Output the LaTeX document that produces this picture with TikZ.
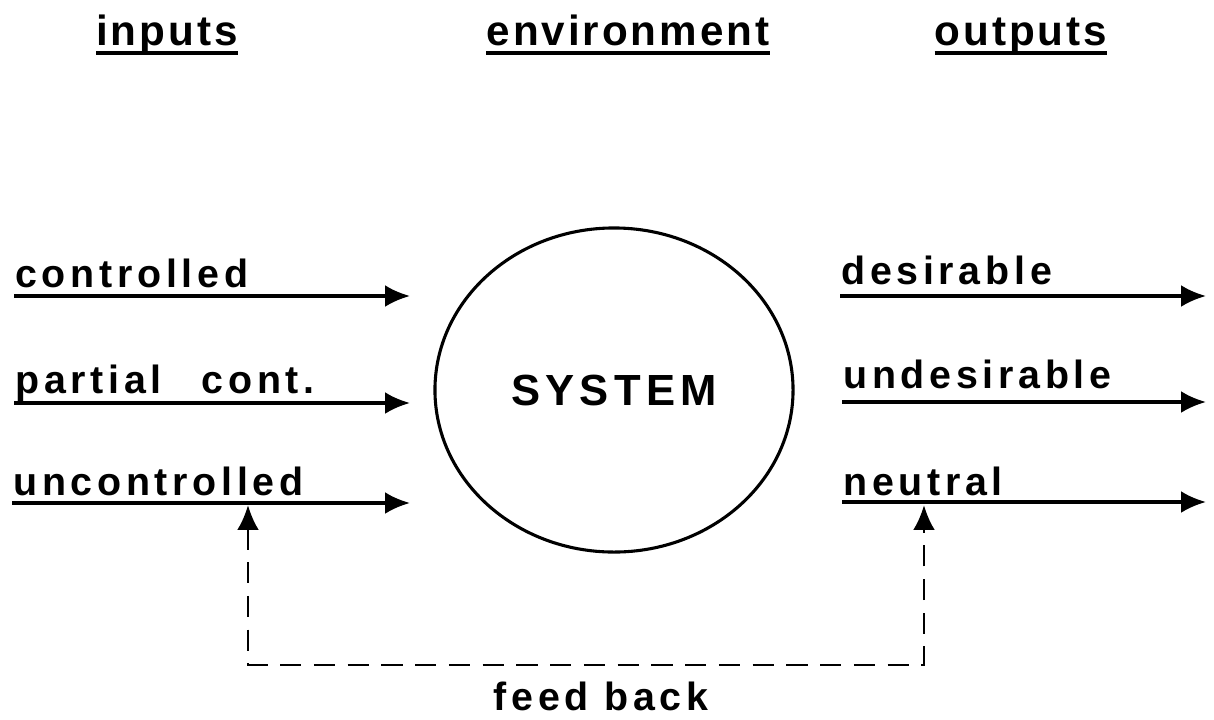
\documentclass[tikz,border=0pt]{standalone}
\usepackage{fontspec}
\setmainfont{Liberation Sans}
\newfontfamily\lettering[LetterSpace=12]{Liberation Sans Bold}
\newfontfamily\headfont[LetterSpace=7]{Liberation Sans Bold}
\newfontfamily\capsfont[LetterSpace=12]{Liberation Sans Bold}
\usetikzlibrary{arrows.meta,positioning,shapes.geometric}

\begin{document}
\begin{tikzpicture}[
    x=0.025cm, y=-0.025cm,
    >={Latex[length=0.62cm,width=0.54cm]},
    lbl/.style={inner sep=0pt, anchor=base west,
        font=\lettering\fontsize{28}{30}\selectfont},
    head/.style={inner sep=0pt, anchor=base,
        font=\headfont\fontsize{30}{32}\selectfont},
    flow/.style={->, line width=2.2pt},
    fb/.style={<->, line width=1.9pt, dash pattern=on 15pt off 9pt},
    sys/.style={
        draw, ellipse, line width=2.2pt,
        minimum width=8.95cm,
        minimum height=8.1cm,
        inner sep=0pt,
        font=\capsfont\fontsize{31}{33}\selectfont
    },
]
\useasboundingbox (0,0) rectangle (1214,719);

% headings
\node[head] (inp) at (167,45) {inputs};
\node[head] (env) at (628,45) {environment};
\node[head] (outp) at (1021,45) {outputs};
\draw[line width=2.4pt] ([yshift=-0.2cm]inp.base west) -- ([yshift=-0.2cm]inp.base east);
\draw[line width=2.4pt] ([yshift=-0.2cm]env.base west) -- ([yshift=-0.2cm]env.base east);
\draw[line width=2.4pt] ([yshift=-0.2cm]outp.base west) -- ([yshift=-0.2cm]outp.base east);

\node[sys] (system) at (614,390) {SYSTEM};

% inputs
\node[lbl] (ctl) at (15,287) {controlled};
\node[lbl] (pctl) at (15,393) {partial\hspace{1.0cm}cont.};
\node[lbl] (uctl) at (13,495) {uncontrolled};
\coordinate (ctl-a) at (14,296);
\coordinate (ctl-b) at (410,296);
\coordinate (pctl-a) at (14,403);
\coordinate (pctl-b) at (410,403);
\coordinate (uctl-a) at (12,503);
\coordinate (uctl-b) at (410,503);
\draw[flow] (ctl-a) -- (ctl-b);
\draw[flow] (pctl-a) -- (pctl-b);
\draw[flow] (uctl-a) -- (uctl-b);

% outputs
\node[lbl] (des) at (841,284) {desirable};
\node[lbl] (udes) at (843,388) {undesirable};
\node[lbl] (neu) at (843,495) {neutral};
\coordinate (des-a) at (840,296);
\coordinate (des-b) at (1206,296);
\coordinate (udes-a) at (842,402);
\coordinate (udes-b) at (1206,402);
\coordinate (neu-a) at (842,502);
\coordinate (neu-b) at (1206,502);
\draw[flow] (des-a) -- (des-b);
\draw[flow] (udes-a) -- (udes-b);
\draw[flow] (neu-a) -- (neu-b);

% feed back loop
\coordinate (fb-in) at (248,505);
\coordinate (fb-out) at (924,505);
\coordinate (fb-corner) at (248,665);
\draw[fb] (fb-in) -- (fb-corner) -| (fb-out);
\node[lbl, anchor=base] (fbk) at (601,710) {feed back};

\end{tikzpicture}
\end{document}
